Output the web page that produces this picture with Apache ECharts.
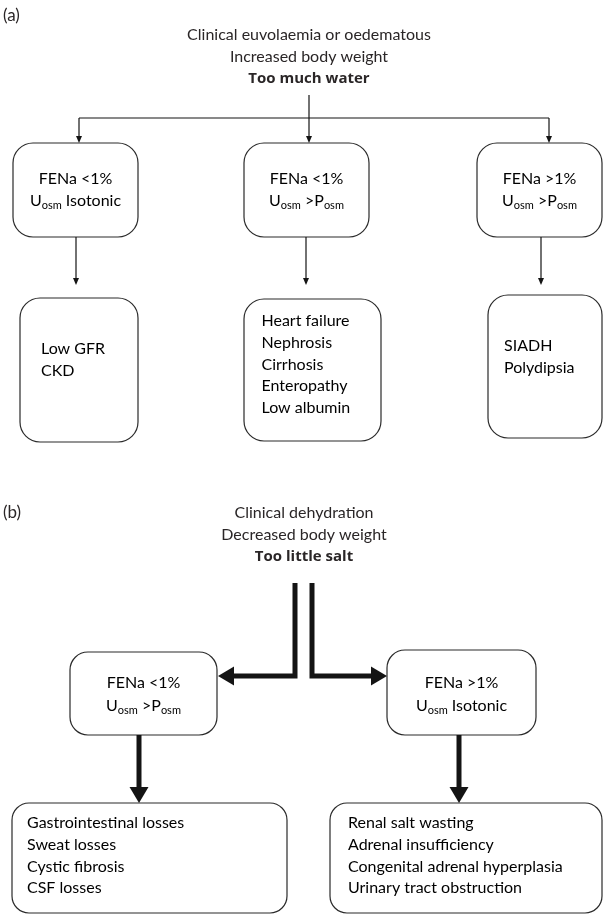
<!DOCTYPE html>
<html><head><meta charset="utf-8">
<script src="https://cdn.jsdelivr.net/npm/echarts@6/dist/echarts.min.js"></script>
<style>html,body{margin:0;padding:0;background:#fff}#c{width:603px;height:914px}</style>
</head><body><div id="c"></div>
<script>
// ---------- content (text only) ----------
const panelLabels = ['(a)', '(b)'];
const headingA = ['Clinical euvolaemia or oedematous', 'Increased body weight', 'Too much water'];
const headingB = ['Clinical dehydration', 'Decreased body weight', 'Too little salt'];
const testsA = [
  ['FENa <1%', 'U_osm Isotonic'],
  ['FENa <1%', 'U_osm >P_osm'],
  ['FENa >1%', 'U_osm >P_osm']
];
const causesA = [
  ['Low GFR', 'CKD'],
  ['Heart failure', 'Nephrosis', 'Cirrhosis', 'Enteropathy', 'Low albumin'],
  ['SIADH', 'Polydipsia']
];
const testsB = [
  ['FENa <1%', 'U_osm >P_osm'],
  ['FENa >1%', 'U_osm Isotonic']
];
const causesB = [
  ['Gastrointestinal losses', 'Sweat losses', 'Cystic fibrosis', 'CSF losses'],
  ['Renal salt wasting', 'Adrenal insufficiency', 'Congenital adrenal hyperplasia', 'Urinary tract obstruction']
];

// ---------- layout (canvas units on hidden 0..603 x 0..914 axes) ----------
const FONT = 'Lato, "Open Sans", sans-serif';
const BOLD_FONT = '"Open Sans", Lato, sans-serif';
const TEXT_COLOR = '#2a2627';
const LINE_COLOR = '#141414';
const layout = {
  labels: [[3, 16], [3, 513]],
  headA: { x: 309, y: [35, 57, 79] },
  headB: { x: 304, y: [513, 535, 557] },
  testBoxA: [[13,143,138,237],[244,143,369,237],[477,143,602,237]],
  testTextA: { y: 179, lh: 21.5 },
  causeBoxA: [[20,298,138,442],[244,299,381,441],[488,295,602,438]],
  causeTextA: [[41,349],[261.5,321],[504,346]],
  testBoxB: [[70,652,217,735],[387,650,536,735]],
  testTextB: { y: 683, lh: 23 },
  causeBoxB: [[12,803,287,913],[330,803,602,913]],
  causeTextB: [[27,823],[348,823]],
  causeLh: 21.7
};
const thin = { w: 1.2, len: 7, wid: 6 };
const thick = { w: 5, len: 16, wid: 19 };
const connectors = [
  { pts: [[309,95],[309,143]], s: thin, head: true },
  { pts: [[79,118],[549,118]], s: thin, head: false },
  { pts: [[79,118],[79,143]], s: thin, head: true },
  { pts: [[549,118],[549,143]], s: thin, head: true },
  { pts: [[76,237],[76,285]], s: thin, head: true },
  { pts: [[306,237],[306,285]], s: thin, head: true },
  { pts: [[541,237],[541,285]], s: thin, head: true },
  { pts: [[295,583],[295,676],[218,676]], s: thick, head: true },
  { pts: [[312,583],[312,676],[387,676]], s: thick, head: true },
  { pts: [[139,735],[139,803]], s: thick, head: true },
  { pts: [[459,735],[459,803]], s: thick, head: true }
];

// ---------- build nodes ----------
function toRich(str) {
  return str.split(/(_\w+)/).filter(p => p.length).map(p =>
    p[0] === '_' ? '{s|' + p.slice(1) + '}' : '{m|' + p + '}').join('');
}
const richStyles = {
  m: { fontSize: 16, fontFamily: FONT, color: TEXT_COLOR, lineHeight: 20 },
  s: { fontSize: 11, fontFamily: FONT, color: TEXT_COLOR, lineHeight: 9, verticalAlign: 'bottom' }
};
const nodes = [];
testsA.forEach((lines, i) => {
  const b = layout.testBoxA[i];
  nodes.push({ rect: b, r: 20, lines, align: 'center', tx: (b[0]+b[2])/2, ty: layout.testTextA.y, lh: layout.testTextA.lh });
});
causesA.forEach((lines, i) => {
  nodes.push({ rect: layout.causeBoxA[i], r: 20, lines, align: 'left', tx: layout.causeTextA[i][0], ty: layout.causeTextA[i][1], lh: layout.causeLh });
});
testsB.forEach((lines, i) => {
  const b = layout.testBoxB[i];
  nodes.push({ rect: b, r: 18, lines, align: 'center', tx: (b[0]+b[2])/2, ty: layout.testTextB.y, lh: layout.testTextB.lh });
});
causesB.forEach((lines, i) => {
  nodes.push({ rect: layout.causeBoxB[i], r: 17, lines, align: 'left', tx: layout.causeTextB[i][0], ty: layout.causeTextB[i][1], lh: layout.causeLh });
});

const headings = [];
headingA.forEach((t, i) => headings.push({ t, x: layout.headA.x, y: layout.headA.y[i], bold: i === 2 }));
headingB.forEach((t, i) => headings.push({ t, x: layout.headB.x, y: layout.headB.y[i], bold: i === 2 }));
panelLabels.forEach((t, i) => headings.push({ t, x: layout.labels[i][0], y: layout.labels[i][1], label: true }));

const chart = echarts.init(document.getElementById('c'), null, { renderer: 'canvas' });
chart.setOption({
  animation: false,
  grid: { left: 0, right: 0, top: 0, bottom: 0 },
  xAxis: { type: 'value', min: 0, max: 603, show: false },
  yAxis: { type: 'value', min: 0, max: 914, inverse: true, show: false },
  series: [
    {
      type: 'custom', coordinateSystem: 'cartesian2d', clip: false, silent: true,
      data: nodes.map((n, i) => [n.rect[0], n.rect[1], i]),
      renderItem(params, api) {
        const n = nodes[params.dataIndex];
        const p0 = api.coord([n.rect[0], n.rect[1]]);
        const p1 = api.coord([n.rect[2], n.rect[3]]);
        const children = [{
          type: 'rect',
          shape: { x: p0[0], y: p0[1], width: p1[0]-p0[0], height: p1[1]-p0[1], r: n.r },
          style: { fill: '#fff', stroke: '#2a2a2a', lineWidth: 1.2 }
        }];
        n.lines.forEach((ln, k) => {
          const p = api.coord([n.tx, n.ty + k * n.lh]);
          children.push({
            type: 'text',
            style: { text: toRich(ln), rich: richStyles, x: p[0], y: p[1], align: n.align, verticalAlign: 'middle' }
          });
        });
        return { type: 'group', children };
      }
    },
    {
      type: 'custom', coordinateSystem: 'cartesian2d', clip: false, silent: true,
      data: connectors.map((c, i) => [c.pts[0][0], c.pts[0][1], i]),
      renderItem(params, api) {
        const c = connectors[params.dataIndex];
        const pts = c.pts.map(p => api.coord(p));
        const children = [];
        let linePts = pts.slice();
        if (c.head) {
          const tip = pts[pts.length - 1];
          const prev = pts[pts.length - 2];
          const dx = tip[0] - prev[0], dy = tip[1] - prev[1];
          const d = Math.hypot(dx, dy), ux = dx / d, uy = dy / d;
          const base = [tip[0] - ux * c.s.len, tip[1] - uy * c.s.len];
          linePts[linePts.length - 1] = [base[0] + ux * 1, base[1] + uy * 1];
          const hw = c.s.wid / 2;
          children.push({
            type: 'polygon',
            shape: { points: [tip, [base[0] - uy * hw, base[1] + ux * hw], [base[0] + uy * hw, base[1] - ux * hw]] },
            style: { fill: LINE_COLOR }
          });
        }
        children.unshift({
          type: 'polyline',
          shape: { points: linePts },
          style: { stroke: LINE_COLOR, lineWidth: c.s.w, fill: null, lineJoin: 'miter', lineCap: 'butt' }
        });
        return { type: 'group', children };
      }
    },
    {
      type: 'custom', coordinateSystem: 'cartesian2d', clip: false, silent: true,
      data: headings.map((h, i) => [h.x, h.y, i]),
      renderItem(params, api) {
        const h = headings[params.dataIndex];
        const p = api.coord([h.x, h.y]);
        return {
          type: 'text',
          style: {
            text: h.t, x: p[0], y: p[1],
            align: h.label ? 'left' : 'center', verticalAlign: 'middle',
            font: h.bold ? 'bold 15px ' + BOLD_FONT : (h.label ? '17px ' : '16px ') + FONT,
            fill: TEXT_COLOR
          }
        };
      }
    }
  ]
});
</script>
</body></html>
